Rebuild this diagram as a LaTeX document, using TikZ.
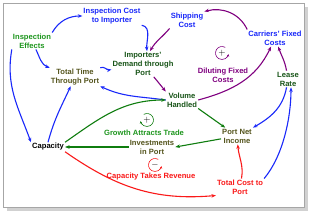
\documentclass[tikz,border=0pt]{standalone}
\usepackage{fontspec}
\setmainfont{Liberation Sans}
\usetikzlibrary{arrows.meta}
\usepackage{xcolor}
\definecolor{linkblue}{RGB}{25,40,250}
\definecolor{txtgreen}{RGB}{30,150,30}
\definecolor{darkgreen}{RGB}{25,85,25}
\definecolor{olive}{RGB}{85,85,30}
\definecolor{looppurple}{RGB}{128,0,128}
\definecolor{linkgreen}{RGB}{15,125,15}
\definecolor{loopred}{RGB}{250,25,25}

\begin{document}
\begin{tikzpicture}[x=1pt, y=-1pt,
  var/.style={font=\fontsize{7.6}{9}\selectfont\bfseries, align=center, inner sep=1pt},
  link/.style={-{Stealth[length=4.5pt,width=3.5pt]}, line width=1.1pt},
  loopmark/.style={line width=0.6pt, -{Stealth[length=2.5pt,width=2.5pt]}}
]
% card
\useasboundingbox (0,0) rectangle (310,214);
\fill[black!18] (7,7) rectangle (308,211);
\filldraw[fill=white, draw=black!35, line width=0.6pt] (3,3) rectangle (304,207);

% variables
\node[var, text=linkblue] (ICI) at (112,16) {Inspection Cost\\to Importer};
\node[var, text=linkblue] (SC) at (187,20) {Shipping\\Cost};
\node[var, text=linkblue] (CFC) at (275,38) {Carriers' Fixed\\Costs};
\node[var, text=txtgreen] (IE) at (32,41) {Inspection\\Effects};
\node[var, text=darkgreen] (IDP) at (143,64) {Importers'\\Demand through\\Port};
\node[var, text=olive] (TTP) at (75,77) {Total Time\\Through Port};
\node[var, text=darkgreen] (LR) at (288,79) {Lease\\Rate};
\node[var, text=darkgreen] (VH) at (182,100) {Volume\\Handled};
\node[var, text=black] (Cap) at (48,147) {Capacity};
\node[var, text=olive] (IP) at (152,147) {Investments\\in Port};
\node[var, text=olive] (PNI) at (237,136) {Port Net\\Income};
\node[var, text=loopred] (TCP) at (240,187) {Total Cost to\\Port};

% loop labels
\node[var, text=loopred] (CTR) at (151,177) {Capacity Takes Revenue};
\node[var, text=txtgreen] (GAT) at (144,133) {Growth Attracts Trade};
\node[var, text=looppurple] (DFC) at (223,75) {Diluting Fixed\\Costs};

% loop markers
\node[font=\fontsize{9}{9}\selectfont] (DFCm) at (222,53) {$+$};
\draw[loopmark, looppurple] (222,53) ++(-60:6.5) arc[start angle=-60, end angle=-350, radius=6.5];
\node[font=\fontsize{9}{9}\selectfont] (GATm) at (147,120) {$+$};
\draw[loopmark, linkgreen] (147,120) ++(-120:6.5) arc[start angle=-120, end angle=170, radius=6.5];
\node[font=\fontsize{9}{9}\selectfont] (CTRm) at (155,165) {$-$};
\draw[loopmark, loopred] (155,165) ++(-60:6.5) arc[start angle=-60, end angle=-350, radius=6.5];

% blue links
\draw[link, linkblue] (IE) to[out=-65, in=160] (TTP.north west);
\draw[link, linkblue] (IE.north east) to[out=60, in=180] (ICI);
\draw[link, linkblue] (ICI.south east) to[out=-10, in=95] ([xshift=4pt]IDP.north);
\draw[link, linkblue] (TTP.north east) to[out=25, in=190] (IDP);
\draw[link, linkblue] (VH.west) to[out=172, in=-25] (TTP.south east);
\draw[link, linkblue] (IE.south west) to[out=-100, in=110] (Cap.north west);
\draw[link, linkblue] (Cap.north) to[out=75, in=-115] (TTP);
\draw[link, linkblue] (LR) to[out=-100, in=30] (PNI.north east);
\draw[link, linkblue] (TCP.north east) to[out=50, in=-90, looseness=0.8] ([xshift=3pt]LR.south);

% purple links
\draw[link, looppurple] (CFC.north west) to[out=115, in=15] (SC.north east);
\draw[link, looppurple] (SC.south west) to[out=-130, in=60] ([xshift=7pt]IDP.north);
\draw[link, looppurple] (IDP) to[out=-50, in=130] (VH.north west);
\draw[link, looppurple] (VH.east) to[out=15, in=-115] (CFC);
\draw[link, looppurple] (LR) to[out=100, in=-70] (CFC);

% green links
\draw[link, linkgreen] (VH.south east) -- (PNI);
\draw[link, linkgreen] (PNI) -- (IP.east);
\draw[link, linkgreen] (IP) -- (Cap);
\draw[link, linkgreen] (Cap.north east) to[out=35, in=180] (VH.west);

% red links
\draw[link, loopred] (Cap.south east) to[out=-35, in=185] (TCP.south west);
\draw[link, loopred] (TCP) to[out=80, in=-85] (PNI);

\end{tikzpicture}
\end{document}
